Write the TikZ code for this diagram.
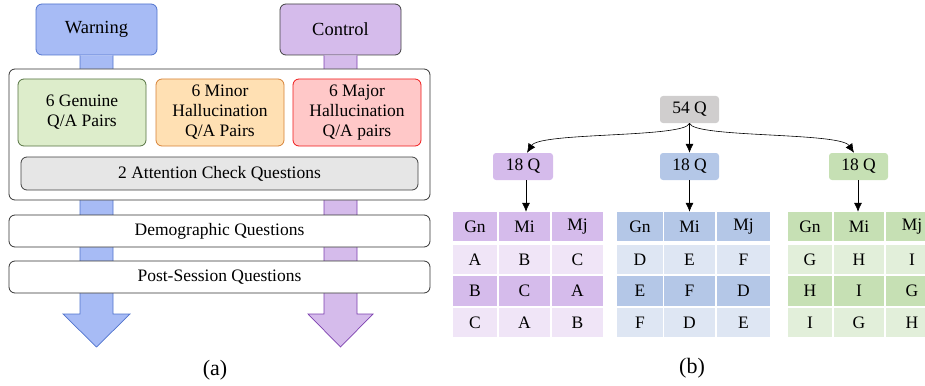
\documentclass[tikz,border=0pt]{standalone}
\usepackage{fontspec}
\setmainfont{Liberation Serif}
\newfontfamily\tnr{Liberation Serif}
\usetikzlibrary{arrows.meta}
\definecolor{wblue}{RGB}{167,187,245}
\definecolor{wblueb}{RGB}{80,115,205}
\definecolor{cpur}{RGB}{213,187,235}
\definecolor{cpurb}{RGB}{125,65,175}
\definecolor{gfill}{RGB}{221,237,203}
\definecolor{gbord}{RGB}{85,115,65}
\definecolor{ofill}{RGB}{255,224,179}
\definecolor{obord}{RGB}{215,130,55}
\definecolor{rfill}{RGB}{255,200,200}
\definecolor{rbord}{RGB}{240,25,25}
\definecolor{afill}{RGB}{230,230,230}
\definecolor{qgray}{RGB}{208,206,206}
\definecolor{pH}{RGB}{213,187,235}
\definecolor{pL}{RGB}{240,229,247}
\definecolor{bH}{RGB}{180,199,231}
\definecolor{bL}{RGB}{222,230,243}
\definecolor{gH}{RGB}{198,224,180}
\definecolor{gL}{RGB}{226,239,218}
\tikzset{
  txt/.style={font=\tnr\fontsize{17.5}{20}\selectfont, align=center, inner sep=0pt},
  rbox/.style={txt, draw, rounded corners=6pt, line width=0.8pt},
  qbox/.style={txt, rounded corners=3pt, minimum width=59pt, minimum height=27pt},
  cell/.style={txt, minimum height=29pt},
  arr/.style={-{Latex[length=9pt,width=8pt]}, line width=0.6pt},
  shaft/.style={line width=0.7pt}
}
\begin{document}
\begin{tikzpicture}[x=1pt,y=-1pt]
\clip (0,0) rectangle (925,385);
% ---- (a) ----
\node[rbox, fill=wblue, draw=wblueb, minimum width=121pt, minimum height=51pt, font=\tnr\fontsize{18.5}{20}\selectfont] (warn) at (96.5,29.5) {Warning};
\node[rbox, fill=cpur, draw=black!75, minimum width=121pt, minimum height=51pt, font=\tnr\fontsize{18.5}{20}\selectfont] (ctrl) at (340.5,29.5) {Control};
\coordinate (wtip) at (96.5,347);
\coordinate (ctip) at (340.5,347);
\draw[shaft, fill=wblue, draw=wblueb] (warn.south -| 80,0) -- (80,314) -- (63,314) -- (wtip) -- (130,314) -- (113,314) -- (warn.south -| 113,0);
\draw[shaft, fill=cpur, draw=cpurb] (ctrl.south -| 324,0) -- (324,314) -- (308,314) -- (ctip) -- (373,314) -- (357,314) -- (ctrl.south -| 357,0);
\node[rbox, fill=white, draw=black!80, minimum width=421pt, minimum height=131pt] (cont) at (219.5,134.5) {};
\node[rbox, fill=gfill, draw=gbord, minimum width=128pt, minimum height=67pt] (gen) at (82,112.5) {6 Genuine\\Q/A Pairs};
\node[rbox, fill=ofill, draw=obord, minimum width=128pt, minimum height=67pt] (minor) at (220,112.5) {6 Minor\\Hallucination\\Q/A Pairs};
\node[rbox, fill=rfill, draw=rbord, minimum width=128pt, minimum height=67pt] (major) at (357,112.5) {6 Major\\Hallucination\\Q/A pairs};
\node[rbox, fill=afill, draw=black!75, minimum width=397pt, minimum height=33pt] (att) at (219.5,173.5) {2 Attention Check Questions};
\node[rbox, fill=white, draw=black!80, minimum width=421pt, minimum height=32pt] (demo) at (219.5,231) {Demographic Questions};
\node[rbox, fill=white, draw=black!80, minimum width=421pt, minimum height=32pt] (post) at (219.5,277) {Post-Session Questions};
\node[txt, font=\tnr\fontsize{22}{24}\selectfont] (capa) at (215,370) {(a)};
% ---- (b) ----
\node[qbox, fill=qgray] (q54) at (689.5,109.5) {54 Q};
\node[qbox, fill=pH, minimum width=60pt] (qa) at (523,166.5) {18 Q};
\node[qbox, fill=bH] (qb) at (689.5,166.5) {18 Q};
\node[qbox, fill=gH] (qc) at (858.5,166.5) {18 Q};
\draw[arr] (q54.south) .. controls (686,138) and (540,132) .. (qa.north -| 527,0);
\draw[arr] (q54.south) -- (qb.north);
\draw[arr] (q54.south) .. controls (693,138) and (840,132) .. (qc.north -| 854,0);
% tables
\def\ra{226.5}\def\rb{259.5}\def\rc{291}\def\rd{322.5}
% purple
\foreach \cx/\w/\h/\a/\b/\c [count=\i] in {475/44/Gn/A/B/C, 524.5/51/Mi/B/C/A, 577.5/51/Mj/C/A/B}{
  \node[cell, fill=pH, minimum width=\w pt] (pt\i h) at (\cx,\ra) {\h};
  \node[cell, fill=pL, minimum width=\w pt] (pt\i a) at (\cx,\rb) {\a};
  \node[cell, fill=pH, minimum width=\w pt, minimum height=30pt] (pt\i b) at (\cx,\rc) {\b};
  \node[cell, fill=pL, minimum width=\w pt] (pt\i c) at (\cx,\rd) {\c};
}
% blue
\foreach \cx/\w/\h/\a/\b/\c [count=\i] in {640/46/Gn/D/E/F, 689.5/51/Mi/E/F/D, 743.5/53/Mj/F/D/E}{
  \node[cell, fill=bH, minimum width=\w pt] (bt\i h) at (\cx,\ra) {\h};
  \node[cell, fill=bL, minimum width=\w pt] (bt\i a) at (\cx,\rb) {\a};
  \node[cell, fill=bH, minimum width=\w pt, minimum height=30pt] (bt\i b) at (\cx,\rc) {\b};
  \node[cell, fill=bL, minimum width=\w pt] (bt\i c) at (\cx,\rd) {\c};
}
% green
\foreach \cx/\w/\h/\a/\b/\c [count=\i] in {810/44/Gn/G/H/I, 859/50/Mi/H/I/G, 912/52/Mj/I/G/H}{
  \node[cell, fill=gH, minimum width=\w pt] (gt\i h) at (\cx,\ra) {\h};
  \node[cell, fill=gL, minimum width=\w pt] (gt\i a) at (\cx,\rb) {\a};
  \node[cell, fill=gH, minimum width=\w pt, minimum height=30pt] (gt\i b) at (\cx,\rc) {\b};
  \node[cell, fill=gL, minimum width=\w pt] (gt\i c) at (\cx,\rd) {\c};
}
\draw[arr] (qa.south -| 526,0) -- (pt2h.north -| 526,0);
\draw[arr] (qb.south) -- (bt2h.north -| qb.south);
\draw[arr] (qc.south -| 858,0) -- (gt2h.north -| 858,0);
\node[txt, font=\tnr\fontsize{22}{24}\selectfont] (capb) at (692,368) {(b)};
\end{tikzpicture}
\end{document}
